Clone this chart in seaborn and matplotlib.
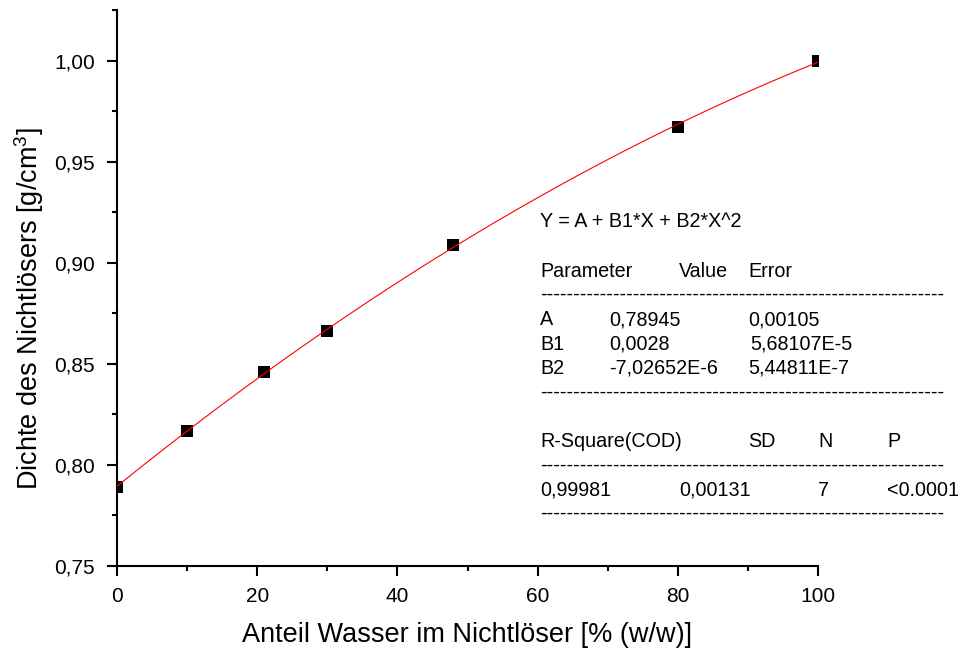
import numpy as np
import pandas as pd
import matplotlib
matplotlib.use("Agg")
import matplotlib.pyplot as plt
from matplotlib.ticker import FixedLocator, FuncFormatter
import seaborn as sns

# Measured densities
water_share = [0, 10, 21, 30, 48, 80, 100]
density = [0.789, 0.817, 0.846, 0.866, 0.909, 0.967, 1.000]

# Quadratic fit parameters
fit_A = 0.78945
fit_B1 = 0.0028
fit_B2 = -7.02652e-6

x_ticks = [0, 20, 40, 60, 80, 100]
y_ticks = [0.75, 0.80, 0.85, 0.90, 0.95, 1.00]

sns.set_style("ticks")
plt.rcParams["font.family"] = ["Liberation Sans", "DejaVu Sans"]
plt.rcParams["mathtext.fontset"] = "custom"
plt.rcParams["mathtext.rm"] = "Liberation Sans"
plt.rcParams["mathtext.it"] = "Liberation Sans"
plt.rcParams["text.color"] = "black"
plt.rcParams["axes.labelcolor"] = "black"

W, H = 960, 652
fig = plt.figure(figsize=(W / 100, H / 100), dpi=100)
ax = fig.add_axes([117 / W, 1 - 566 / H, 701 / W, 556 / H])

df = pd.DataFrame({"x": water_share, "y": density})
xf = np.linspace(0, 100, 201)
fit_df = pd.DataFrame({"x": xf, "y": fit_A + fit_B1 * xf + fit_B2 * xf ** 2})

sns.scatterplot(data=df, x="x", y="y", ax=ax, marker="s", s=80, color="black",
                linewidth=0, zorder=2)
sns.lineplot(data=fit_df, x="x", y="y", ax=ax, color="#ff0000", linewidth=0.8,
             zorder=3)

ax.set_xlim(0, 100)
ax.set_ylim(0.75, 1.025)
ax.xaxis.set_major_locator(FixedLocator(x_ticks))
ax.xaxis.set_minor_locator(FixedLocator([10, 30, 50, 70, 90]))
ax.yaxis.set_major_locator(FixedLocator(y_ticks))
ax.yaxis.set_minor_locator(FixedLocator([0.775, 0.825, 0.875, 0.925, 0.975, 1.025]))
ax.yaxis.set_major_formatter(FuncFormatter(lambda v, p: f"{v:.2f}".replace(".", ",")))

for side in ("top", "right"):
    ax.spines[side].set_visible(False)
for side in ("left", "bottom"):
    ax.spines[side].set_linewidth(1.5)
    ax.spines[side].set_color("black")

ax.tick_params(which="major", direction="out", length=7.2, width=1.5,
               labelsize=15, colors="black")
ax.tick_params(axis="x", which="major", pad=8)
ax.tick_params(axis="y", which="major", pad=8.5)
ax.tick_params(which="minor", direction="out", length=3.5, width=1.5,
               colors="black")

ax.set_xlabel("")
ax.set_ylabel("")
fig.text(467 / W, 1 - 635 / H, "Anteil Wasser im Nichtlöser [% (w/w)]",
         fontsize=19.5, ha="center", va="center", color="black")
fig.text(29 / W, 1 - 309 / H, "Dichte des Nichtlösers [g/cm$^3$]",
         fontsize=19.5, ha="center", va="center", rotation=90, color="black")

# Fit summary table (positions are text centre lines, drawn on the baseline)
fs = 14.2
def put(px, py, s):
    fig.text(px / W, 1 - (py + 7) / H, s, fontsize=fs, va="baseline",
             ha="left", color="black")

dash = "-" * 61
put(540, 220, "Y = A + B1*X + B2*X^2")
put(540, 270, "Parameter")
put(679, 270, "Value")
put(748, 270, "Error")
put(540, 293, dash)
put(540, 318, "A")
put(609, 318, "0,78945")
put(748, 318, "0,00105")
put(540, 343, "B1")
put(609, 343, "0,0028")
put(750, 343, "5,68107E-5")
put(540, 367, "B2")
put(609, 367, "-7,02652E-6")
put(748, 367, "5,44811E-7")
put(540, 391, dash)
put(540, 440, "R-Square(COD)")
put(748, 440, "SD")
put(818, 440, "N")
put(887, 440, "P")
put(540, 464, dash)
put(540, 489, "0,99981")
put(679, 489, "0,00131")
put(818, 489, "7")
put(887, 489, "<0.0001")
put(540, 512, dash)

fig.savefig("out.png", dpi=100, facecolor="white")
